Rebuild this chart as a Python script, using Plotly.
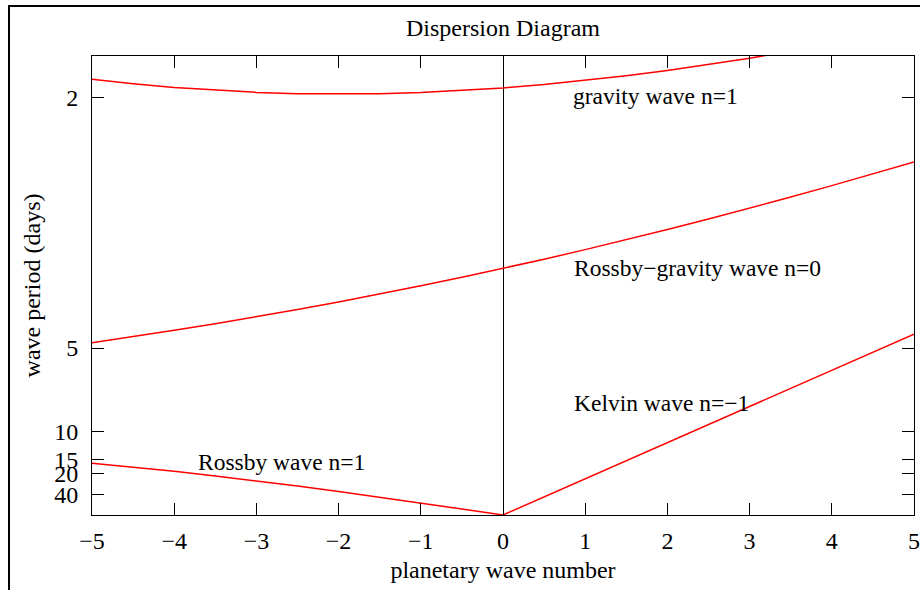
import plotly.graph_objects as go

# planetary wave number samples
k_grav = [-5, -4.5, -4, -3.5, -3, -2.5, -2, -1.5, -1, -0.5, 0, 0.5, 1, 1.5, 2, 2.5, 3, 3.5]
f_grav = [0.5222, 0.5168, 0.5123, 0.5089, 0.5064, 0.5049, 0.5045, 0.5049, 0.5063, 0.5086,
          0.5118, 0.5159, 0.5207, 0.5263, 0.5326, 0.5397, 0.5474, 0.5557]

k_rg = [-5, -4.5, -4, -3.5, -3, -2.5, -2, -1.5, -1, -0.5, 0, 0.5, 1, 1.5, 2, 2.5, 3, 3.5, 4, 4.5, 5]
f_rg = [0.2064, 0.2136, 0.2213, 0.2292, 0.2375, 0.2462, 0.2553, 0.2648, 0.2746, 0.2849, 0.2955,
        0.3065, 0.3180, 0.3298, 0.3420, 0.3546, 0.3676, 0.3810, 0.3947, 0.4088, 0.4231]

k_kel = [0, 1, 2, 3, 4, 5]
f_kel = [0.0, 0.0434, 0.0867, 0.1301, 0.1734, 0.2168]

k_ros = [-5, -4.5, -4, -3.5, -3, -2.5, -2, -1.5, -1, -0.5, 0]
f_ros = [0.0620, 0.0574, 0.0523, 0.04685, 0.04097, 0.03473, 0.02818, 0.02137, 0.01436, 0.00722, 0.0]

x_ticks = [-5, -4, -3, -2, -1, 0, 1, 2, 3, 4, 5]
period_ticks = [2, 5, 10, 15, 20, 40]

labels = ["gravity wave n=1", "Rossby\u2212gravity wave n=0", "Kelvin wave n=\u22121", "Rossby wave n=1"]

FONT = "Liberation Serif"
FS = 24
RED = "#ff0000"

fig = go.Figure()
for kx, fy in [(k_grav, f_grav), (k_rg, f_rg), (k_kel, f_kel), (k_ros, f_ros)]:
    fig.add_trace(go.Scatter(x=kx, y=fy, mode="lines",
                             line=dict(color=RED, width=1.5), showlegend=False,
                             cliponaxis=True))

ann_pos = [(0.83, 0.502), (0.835, 0.296), (0.835, 0.134), (-3.73, 0.0635)]
for txt, (ax, ay) in zip(labels, ann_pos):
    fig.add_annotation(x=ax, y=ay, text=txt, showarrow=False, xanchor="left",
                       yanchor="middle", font=dict(family=FONT, size=FS - 0.5, color="black"))

# outer border (page frame)
fig.add_shape(type="rect", xref="paper", yref="paper",
              x0=(9 - 92) / 822, x1=(940 - 92) / 822,
              y0=(515 - 620) / 459, y1=(515 - 6) / 459,
              line=dict(color="black", width=2), fillcolor="rgba(0,0,0,0)", layer="below")

fig.update_layout(
    width=920, height=590,
    margin=dict(l=92, r=6, t=56, b=75, autoexpand=False),
    paper_bgcolor="white", plot_bgcolor="white",
    font=dict(family=FONT, size=FS, color="black"),
    title=dict(text="Dispersion Diagram", x=0.5, xref="paper", xanchor="center",
               y=1 - 28 / 590, yanchor="middle", font=dict(family=FONT, size=FS)),
    xaxis=dict(range=[-5, 5], tickvals=x_ticks,
               ticktext=[str(v).replace("-", "\u2212") for v in x_ticks],
               ticks="inside", ticklen=12, tickcolor="black", tickwidth=1,
               showline=True, linecolor="black", linewidth=1, mirror="ticks",
               showgrid=False, zeroline=True, zerolinecolor="black", zerolinewidth=1,
               automargin=False, tickfont=dict(family=FONT, size=FS),
               title=dict(text="planetary wave number", standoff=8,
                          font=dict(family=FONT, size=FS)),
               ticklabelstandoff=4),
    yaxis=dict(range=[0, 0.55], tickvals=[1 / p for p in period_ticks],
               ticktext=[str(p) for p in period_ticks],
               ticks="inside", ticklen=12, tickcolor="black", tickwidth=1,
               showline=True, linecolor="black", linewidth=1, mirror="ticks",
               showgrid=False, zeroline=False,
               automargin=False, tickfont=dict(family=FONT, size=FS),
               title=dict(text="wave period (days)", standoff=6,
                          font=dict(family=FONT, size=FS)),
               ticklabelstandoff=8),
)

fig.write_html("out.html")
